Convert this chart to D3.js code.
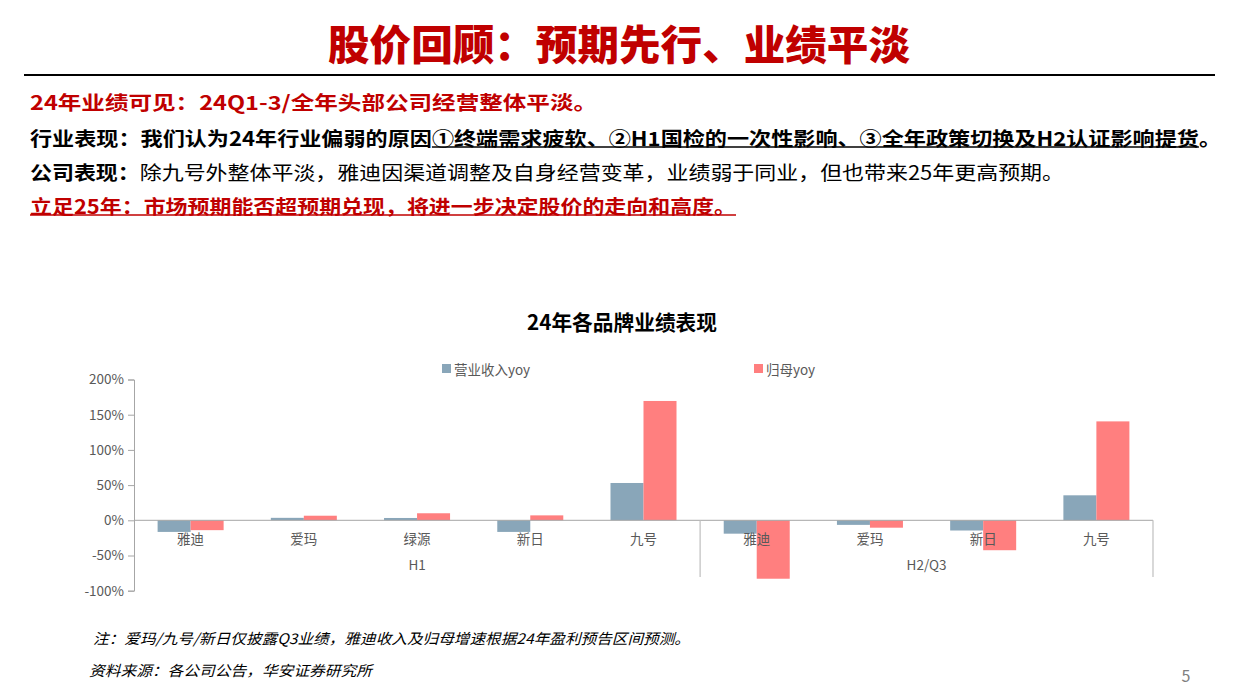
<!DOCTYPE html>
<html>
<head>
<meta charset="utf-8">
<script src="https://cdn.jsdelivr.net/npm/d3@7"></script>
<style>
  body { margin: 0; background: #fff; }
  svg { display: block; font-family: "Noto Sans CJK SC", "Noto Sans", sans-serif; }
</style>
</head>
<body>
<svg id="slide" width="1240" height="697"></svg>
<script>
// chart data
var groups = ["H1", "H2/Q3"];
var brandsH1 = ["雅迪", "爱玛", "绿源", "新日", "九号"];
var brandsH2 = ["雅迪", "爱玛", "新日", "九号"];
var seriesNames = ["营业收入yoy", "归母yoy"];
var revenueYoy = [-16.5, 3.5, 3.3, -16.5, 53, -19, -6.5, -14.5, 35.5];
var profitYoy = [-14, 6.5, 10, 7, 169.5, -83, -10.5, -42.5, 140.5];
var yTicks = [-100, -50, 0, 50, 100, 150, 200];

var colors = ["#89A6B9", "#FF7F7F"];
var red = "#C00000";

var svg = d3.select("#slide");

/* ---------- slide header ---------- */
svg.append("text")
	.attr("x", 328).attr("y", 42)
	.attr("dominant-baseline", "central")
	.attr("textLength", 582).attr("lengthAdjust", "spacingAndGlyphs")
	.style("font-size", "41px").style("font-weight", 900)
	.style("fill", red)
	.text("股价回顾：预期先行、业绩平淡");

svg.append("line")
	.attr("x1", 24).attr("x2", 1215).attr("y1", 75).attr("y2", 75)
	.style("stroke", "#000").style("stroke-width", 2);

// body lines: y, width, parts
var lines = [
	{ y: 101, len: 567, parts: [{ t: "24年业绩可见：24Q1-3/全年头部公司经营整体平淡。", b: true, c: red }] },
	{ y: 137, len: 1191, parts: [{ t: "行业表现：我们认为24年行业偏弱的原因①终端需求疲软、②H1国检的一次性影响、③全年政策切换及H2认证影响提货。", b: true, c: "#000" }] },
	{ y: 171, len: 1034, parts: [{ t: "公司表现：", b: true, c: "#000" },
		{ t: "除九号外整体平淡，雅迪因渠道调整及自身经营变革，业绩弱于同业，但也带来25年更高预期。", b: false, c: "#000" }] },
	{ y: 205, len: 706, parts: [{ t: "立足25年：市场预期能否超预期兑现，将进一步决定股价的走向和高度。", b: true, c: red }] }
];

var lineNodes = lines.map(function(l) {
	var t = svg.append("text")
		.attr("x", 30).attr("y", l.y)
		.attr("dominant-baseline", "central")
		.attr("textLength", l.len).attr("lengthAdjust", "spacingAndGlyphs")
		.style("font-size", "19.5px");
	l.parts.forEach(function(p) {
		t.append("tspan").text(p.t)
			.style("font-weight", p.b ? 700 : 400)
			.style("fill", p.c);
	});
	return t.node();
});

// underline on line 2 (from ① to 货) and on line 4 (whole line)
var s2 = lines[1].parts[0].t;
var u1 = lineNodes[1].getStartPositionOfChar(s2.indexOf("①")).x;
var u2 = lineNodes[1].getEndPositionOfChar(s2.indexOf("货")).x;
svg.append("line")
	.attr("x1", u1).attr("x2", u2).attr("y1", 147).attr("y2", 147)
	.style("stroke", "#000").style("stroke-width", 1.5);
svg.append("line")
	.attr("x1", 30).attr("x2", 30 + lines[3].len).attr("y1", 215).attr("y2", 215)
	.style("stroke", red).style("stroke-width", 1.5);

/* ---------- chart ---------- */
var plotLeft = 134, plotRight = 1153, plotTop = 379.5, plotBottom = 590.7;

var keys = [];
brandsH1.forEach(function(b) { keys.push({ g: 0, name: b }); });
brandsH2.forEach(function(b) { keys.push({ g: 1, name: b }); });
keys.forEach(function(k, i) { k.id = i; k.v = [revenueYoy[i], profitYoy[i]]; });

var x0 = d3.scaleBand()
	.domain(keys.map(function(k) { return k.id; }))
	.range([plotLeft, plotRight])
	.paddingInner(0.417).paddingOuter(0.2085);

var x1 = d3.scaleBand()
	.domain([0, 1])
	.range([0, x0.bandwidth()]);

var y = d3.scaleLinear().domain([-100, 200]).range([plotBottom, plotTop]);

svg.append("text")
	.attr("x", 527).attr("y", 321)
	.attr("dominant-baseline", "central")
	.attr("textLength", 190).attr("lengthAdjust", "spacingAndGlyphs")
	.style("font-size", "21px").style("font-weight", 700)
	.text("24年各品牌业绩表现");

// legend
var legendX = [442, 754];
seriesNames.forEach(function(s, i) {
	svg.append("rect")
		.attr("x", legendX[i]).attr("y", 364)
		.attr("width", 9).attr("height", 9)
		.style("fill", colors[i]);
	svg.append("text")
		.attr("x", legendX[i] + 12).attr("y", 369)
		.attr("dominant-baseline", "central")
		.style("font-size", "13.5px").style("fill", "#595959")
		.text(s);
});

// bars
var bars = svg.append("g").attr("class", "bars");
keys.forEach(function(k) {
	k.v.forEach(function(v, i) {
		bars.append("rect")
			.attr("x", x0(k.id) + x1(i))
			.attr("width", x1.bandwidth())
			.attr("y", y(Math.max(0, v)))
			.attr("height", Math.abs(y(v) - y(0)))
			.style("fill", colors[i]);
	});
});

// y axis
var yAxis = svg.append("g")
	.attr("transform", "translate(" + plotLeft + ",0)")
	.call(d3.axisLeft(y).tickValues(yTicks).tickSize(6).tickPadding(4)
		.tickFormat(function(d) { return d + "%"; }));
yAxis.select(".domain").style("stroke", "#A6A6A6");
yAxis.selectAll(".tick line").style("stroke", "#A6A6A6");
yAxis.selectAll(".tick text")
	.style("font-size", "13.5px").style("fill", "#595959")
	.style("font-family", "'Noto Sans CJK SC', sans-serif");

// zero line (category axis)
svg.append("line")
	.attr("x1", plotLeft).attr("x2", plotRight).attr("y1", y(0)).attr("y2", y(0))
	.style("stroke", "#A6A6A6").style("stroke-width", 1);

// category labels
svg.append("g").selectAll("text")
	.data(keys).enter().append("text")
	.attr("x", function(k) { return x0(k.id) + x0.bandwidth() / 2; })
	.attr("y", 538)
	.attr("text-anchor", "middle").attr("dominant-baseline", "central")
	.style("font-size", "13.5px").style("fill", "#595959")
	.text(function(k) { return k.name; });

// group labels and separators
var step = x0.step();
var groupBounds = [[plotLeft, plotLeft + step * brandsH1.length], [plotLeft + step * brandsH1.length, plotRight]];
groups.forEach(function(g, i) {
	svg.append("text")
		.attr("x", (groupBounds[i][0] + groupBounds[i][1]) / 2)
		.attr("y", 564)
		.attr("text-anchor", "middle").attr("dominant-baseline", "central")
		.style("font-size", "13.5px").style("fill", "#595959")
		.text(g);
	svg.append("line")
		.attr("x1", groupBounds[i][1]).attr("x2", groupBounds[i][1])
		.attr("y1", y(0)).attr("y2", 577)
		.style("stroke", "#BFBFBF").style("stroke-width", 1.2);
});

/* ---------- footnotes ---------- */
svg.append("text")
	.attr("x", 93).attr("y", 637)
	.attr("dominant-baseline", "central")
	.attr("textLength", 597).attr("lengthAdjust", "spacingAndGlyphs")
	.style("font-size", "14.5px").style("font-style", "italic")
	.text("注：爱玛/九号/新日仅披露Q3业绩，雅迪收入及归母增速根据24年盈利预告区间预测。");

svg.append("text")
	.attr("x", 89).attr("y", 669)
	.attr("dominant-baseline", "central")
	.attr("textLength", 283).attr("lengthAdjust", "spacingAndGlyphs")
	.style("font-size", "14.5px").style("font-style", "italic")
	.text("资料来源：各公司公告，华安证券研究所");

svg.append("text")
	.attr("x", 1186).attr("y", 675)
	.attr("text-anchor", "middle").attr("dominant-baseline", "central")
	.style("font-size", "16px").style("fill", "#7F7F7F")
	.text("5");
</script>
</body>
</html>
